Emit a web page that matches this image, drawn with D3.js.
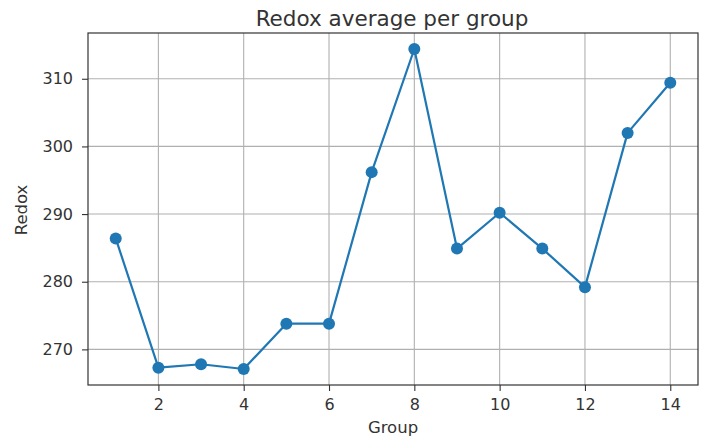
<!DOCTYPE html>
<html>
<head>
<meta charset="utf-8">
<script src="https://cdn.jsdelivr.net/npm/d3@7"></script>
<style>
  html, body { margin: 0; padding: 0; background: #fff; }
  svg { display: block; font-family: "DejaVu Sans", sans-serif; }
</style>
</head>
<body>
<svg id="chart" width="701" height="443"></svg>
<script>
// Average redox value for each group
const groups = [1, 2, 3, 4, 5, 6, 7, 8, 9, 10, 11, 12, 13, 14];
const redox = [286.4, 267.3, 267.8, 267.1, 273.8, 273.8, 296.2, 314.4, 284.9, 290.2, 284.9, 279.2, 302.0, 309.4];
const xTicks = [2, 4, 6, 8, 10, 12, 14];
const yTicks = [270, 280, 290, 300, 310];

const svg = d3.select("#chart");
const margin = { left: 88, top: 33, right: 3, bottom: 58 };
const W = 701, H = 443;
const iw = W - margin.left - margin.right;
const ih = H - margin.top - margin.bottom;

// 5% padding on both axes
const xExt = d3.extent(groups), yExt = d3.extent(redox);
const xPad = (xExt[1] - xExt[0]) * 0.05, yPad = (yExt[1] - yExt[0]) * 0.05;
const x = d3.scaleLinear().domain([xExt[0] - xPad, xExt[1] + xPad]).range([0, iw]);
const y = d3.scaleLinear().domain([yExt[0] - yPad, yExt[1] + yPad]).range([ih, 0]);

const g = svg.append("g").attr("transform", `translate(${margin.left},${margin.top})`);

// grid
g.append("g").selectAll("line").data(xTicks).join("line")
  .attr("x1", d => x(d)).attr("x2", d => x(d)).attr("y1", 0).attr("y2", ih)
  .attr("stroke", "#b0b0b0").attr("stroke-width", 1.1);
g.append("g").selectAll("line").data(yTicks).join("line")
  .attr("y1", d => y(d)).attr("y2", d => y(d)).attr("x1", 0).attr("x2", iw)
  .attr("stroke", "#b0b0b0").attr("stroke-width", 1.1);

// axes
const xAxis = d3.axisBottom(x).tickValues(xTicks).tickSize(6).tickPadding(8).tickFormat(d3.format("d"));
const yAxis = d3.axisLeft(y).tickValues(yTicks).tickSize(6).tickPadding(9).tickFormat(d3.format("d"));
const gx = g.append("g").attr("transform", `translate(0,${ih})`).call(xAxis);
const gy = g.append("g").call(yAxis);
[gx, gy].forEach(a => {
  a.select(".domain").remove();
  a.selectAll(".tick line").attr("stroke", "#333").attr("stroke-width", 1.1);
  a.selectAll(".tick text").attr("fill", "#333").style("font-size", "16px")
    .style("font-family", "DejaVu Sans, sans-serif");
});

// frame
g.append("rect").attr("x", 0).attr("y", 0).attr("width", iw).attr("height", ih)
  .attr("fill", "none").attr("stroke", "#333").attr("stroke-width", 1.2);

// line and markers
const line = d3.line().x((d, i) => x(groups[i])).y(d => y(d));
g.append("path").datum(redox).attr("d", line)
  .attr("fill", "none").attr("stroke", "#1f77b4").attr("stroke-width", 2.2)
  .attr("stroke-linejoin", "round");
g.append("g").selectAll("circle").data(redox).join("circle")
  .attr("cx", (d, i) => x(groups[i])).attr("cy", d => y(d)).attr("r", 6)
  .attr("fill", "#1f77b4");

// labels
svg.append("text").attr("x", margin.left + iw / 2 - 1).attr("y", 26)
  .attr("text-anchor", "middle").attr("fill", "#333").style("font-size", "21.5px")
  .text("Redox average per group");
svg.append("text").attr("x", margin.left + iw / 2).attr("y", 433)
  .attr("text-anchor", "middle").attr("fill", "#333").style("font-size", "16.5px")
  .text("Group");
svg.append("text").attr("transform", `translate(26.5,${margin.top + ih / 2 + 1}) rotate(-90)`)
  .attr("text-anchor", "middle").attr("fill", "#333").style("font-size", "16.5px")
  .text("Redox");
</script>
</body>
</html>
